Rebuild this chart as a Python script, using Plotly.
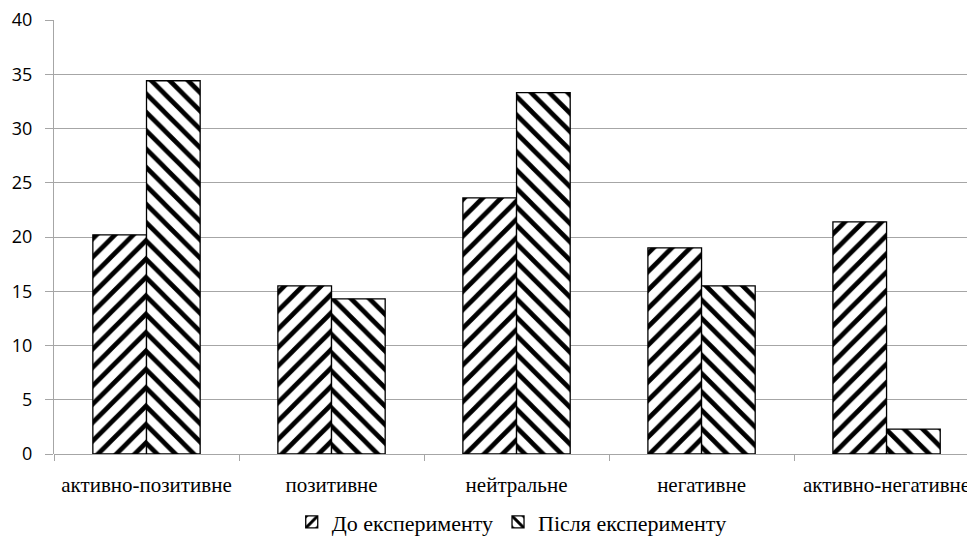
import plotly.graph_objects as go

categories = ["активно-позитивне", "позитивне", "нейтральне", "негативне", "активно-негативне"]
before = [20.2, 15.5, 23.6, 19.0, 21.4]
after = [34.4, 14.3, 33.3, 15.5, 2.3]
series_names = ["До експерименту", "Після експерименту"]
y_ticks = [0, 5, 10, 15, 20, 25, 30, 35, 40]

SERIF = "Liberation Serif, Times New Roman, DejaVu Serif, serif"
SANS = "Open Sans, Noto Sans, Liberation Sans, sans-serif"

fig = go.Figure()
fig.add_trace(go.Bar(
    x=categories, y=before, name=series_names[0],
    marker=dict(color="white", line=dict(color="black", width=1.3),
                pattern=dict(shape="/", size=13, solidity=0.36, fgcolor="black",
                             bgcolor="white", fgopacity=1)),
))
fig.add_trace(go.Bar(
    x=categories, y=after, name=series_names[1],
    marker=dict(color="white", line=dict(color="black", width=1.3),
                pattern=dict(shape="\\", size=13, solidity=0.36, fgcolor="black",
                             bgcolor="white", fgopacity=1)),
))

fig.update_layout(
    width=967, height=534,
    margin=dict(l=46, r=0, t=12, b=88, autoexpand=False),
    paper_bgcolor="white", plot_bgcolor="white",
    barmode="group", bargap=0.42, bargroupgap=0,
    showlegend=True,
    legend=dict(orientation="h", x=0.497, xanchor="center", y=-0.157, yanchor="middle",
                font=dict(family=SERIF, size=22, color="black"),
                traceorder="normal", itemwidth=30),
    xaxis=dict(
        type="category", range=[-0.5, 4.478],
        tickson="boundaries", ticks="outside", ticklen=6, tickcolor="#a6a6a6",
        showline=False, showgrid=False, ticklabelstandoff=16, tickangle=0,
        tickfont=dict(family=SERIF, size=21, color="black"),
    ),
    yaxis=dict(
        range=[0, 40], tickvals=y_ticks,
        showline=True, linecolor="#a6a6a6", linewidth=1,
        ticks="outside", ticklen=8, tickcolor="#a6a6a6",
        showgrid=True, gridcolor="#a6a6a6", gridwidth=1,
        zeroline=True, zerolinecolor="#a6a6a6", zerolinewidth=1,
        ticklabeloverflow="allow", ticklabelstandoff=9,
        tickfont=dict(family=SANS, size=18, color="black"),
    ),
)

fig.write_html("out.html")
